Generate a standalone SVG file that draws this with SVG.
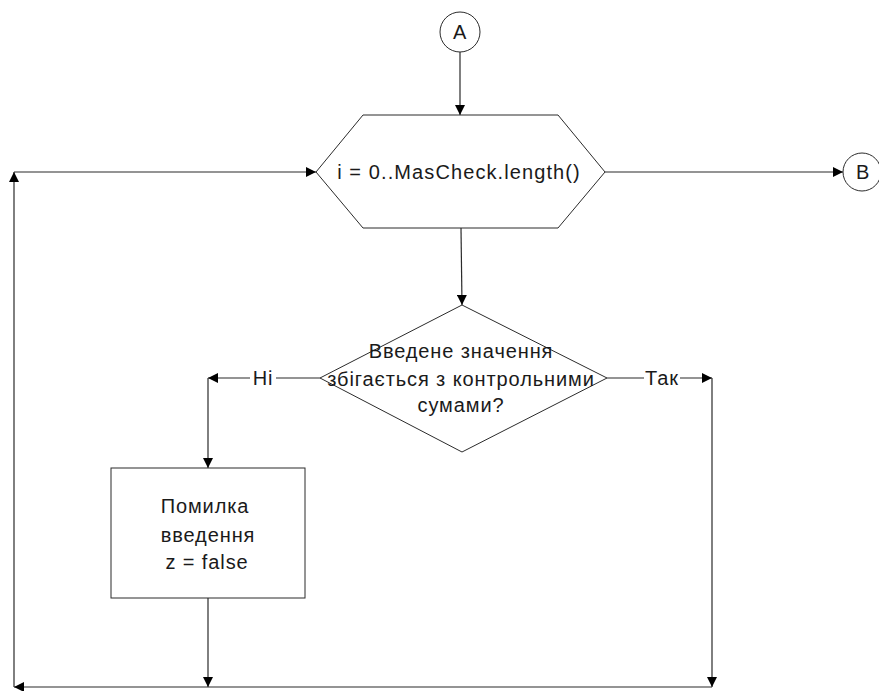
<svg xmlns="http://www.w3.org/2000/svg" width="879" height="691" viewBox="0 0 879 691">
  <style>
    .shape { fill: #ffffff; stroke: #2b2b2b; stroke-width: 1; }
    .wire { fill: none; stroke: #2b2b2b; stroke-width: 1.2; }
    .label { font-family: "Liberation Sans", Arial, sans-serif; font-size: 20px; letter-spacing: 0.9px; fill: #1a1a1a; text-anchor: middle; }
    .wide { letter-spacing: 1.1px; }
  </style>
  <defs>
    <marker id="arrow" viewBox="0 0 10 10" refX="10" refY="5" markerWidth="10" markerHeight="10" markerUnits="userSpaceOnUse" orient="auto">
      <path d="M0,0 L10,5 L0,10 z" fill="#000000"/>
    </marker>
  </defs>
  <rect width="879" height="691" fill="#ffffff"/>

  <g id="connectors">
    <!-- A to loop header -->
    <path class="wire" d="M460,52 L460,115" marker-end="url(#arrow)"/>
    <!-- loop exit to B -->
    <path class="wire" d="M605,172 L843,172" marker-end="url(#arrow)"/>
    <!-- loop body to condition -->
    <path class="wire" d="M461,228 L462,305" marker-end="url(#arrow)"/>
    <!-- "no" branch -->
    <path class="wire" d="M320,378 L208,378" marker-end="url(#arrow)"/>
    <path class="wire" d="M208,378 L208,468" marker-end="url(#arrow)"/>
    <!-- "yes" branch -->
    <path class="wire" d="M607,378 L712,378" marker-end="url(#arrow)"/>
    <path class="wire" d="M712,378 L712,687" marker-end="url(#arrow)"/>
    <!-- error block down to return line -->
    <path class="wire" d="M208,598 L208,687" marker-end="url(#arrow)"/>
    <!-- return line back to loop header -->
    <path class="wire" d="M712,687 L14,687" marker-end="url(#arrow)"/>
    <path class="wire" d="M14,687 L14,172" marker-end="url(#arrow)"/>
    <path class="wire" d="M14,172 L316,172" marker-end="url(#arrow)"/>
    <!-- branch labels -->
    <rect x="250" y="368" width="26" height="20" fill="#ffffff"/>
    <text class="label" x="263" y="385">Ні</text>
    <rect x="644" y="368" width="36" height="20" fill="#ffffff"/>
    <text class="label" x="662" y="385">Так</text>
  </g>

  <g id="connector-a">
    <circle class="shape" cx="460" cy="32" r="20"/>
    <text class="label" x="460" y="39">A</text>
  </g>

  <g id="loop-header">
    <polygon class="shape" points="363,115 558,115 605,172 558,228 363,228 316,172"/>
    <text class="label wide" x="459" y="179">i = 0..MasCheck.length()</text>
  </g>

  <g id="connector-b">
    <circle class="shape" cx="862" cy="172" r="19"/>
    <text class="label" x="863" y="179">B</text>
  </g>

  <g id="check">
    <polygon class="shape" points="462,305 607,378 462,452 320,378"/>
    <text class="label" x="461" y="358">Введене значення</text>
    <text class="label" x="461" y="386">збігається з контрольними</text>
    <text class="label" x="461" y="412">сумами?</text>
  </g>

  <g id="error">
    <rect class="shape" x="111" y="468" width="194" height="130"/>
    <text class="label" x="205" y="513">Помилка</text>
    <text class="label" x="208" y="542">введення</text>
    <text class="label" x="207" y="569">z = false</text>
  </g>
</svg>
